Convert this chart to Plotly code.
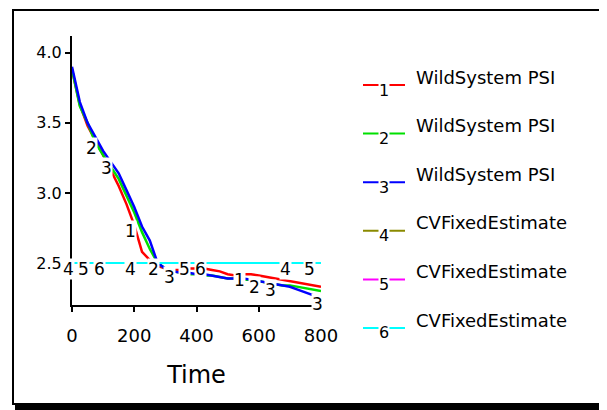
import plotly.graph_objects as go

# ---------------- data ----------------
time = [0, 25, 50, 75, 100, 125, 150, 175, 200, 225, 250, 275, 300, 325, 350, 375, 400,
        425, 450, 475, 500, 525, 550, 575, 600, 625, 650, 675, 700, 725, 750, 775, 800]

wild_1 = [3.88, 3.63, 3.48, 3.38, 3.27, 3.16, 3.05, 2.92, 2.77, 2.58, 2.52, 2.48, 2.46,
          2.45, 2.45, 2.46, 2.46, 2.46, 2.45, 2.44, 2.42, 2.41, 2.42, 2.42, 2.41, 2.40,
          2.39, 2.38, 2.37, 2.36, 2.35, 2.34, 2.33]
wild_2 = [3.88, 3.62, 3.50, 3.36, 3.27, 3.18, 3.10, 2.98, 2.86, 2.72, 2.60, 2.50, 2.46,
          2.44, 2.43, 2.42, 2.42, 2.41, 2.41, 2.40, 2.39, 2.39, 2.38, 2.38, 2.37, 2.36,
          2.35, 2.34, 2.34, 2.33, 2.32, 2.31, 2.30]
wild_3 = [3.90, 3.65, 3.50, 3.40, 3.30, 3.22, 3.14, 3.02, 2.90, 2.76, 2.66, 2.50, 2.46,
          2.44, 2.43, 2.43, 2.42, 2.42, 2.41, 2.40, 2.39, 2.39, 2.39, 2.38, 2.37, 2.36,
          2.35, 2.34, 2.33, 2.31, 2.29, 2.27, 2.25]
cv_4 = [2.5, 2.5, 2.5, 2.5, 2.5, 2.5, 2.5, 2.5, 2.5, 2.5, 2.5, 2.5, 2.5, 2.5, 2.5, 2.5, 2.5,
        2.5, 2.5, 2.5, 2.5, 2.5, 2.5, 2.5, 2.5, 2.5, 2.5, 2.5, 2.5, 2.5, 2.5, 2.5, 2.5]
cv_5 = list(cv_4)
cv_6 = list(cv_4)

names = ["WildSystem PSI", "WildSystem PSI", "WildSystem PSI",
         "CVFixedEstimate", "CVFixedEstimate", "CVFixedEstimate"]
colors = ["#ff0000", "#00e000", "#0000ff", "#8a8a00", "#ff00ff", "#00ffff"]
series = [wild_1, wild_2, wild_3, cv_4, cv_5, cv_6]
# which points carry the curve number
label_idx = [[8, 22], [3, 11, 24], [5, 13, 26, 32], [0, 8, 28], [2, 15, 31], [4, 17]]

# page has an 8px body margin, work in page pixels and shift
OFF = 8
L, R, T, B = 72, 321, 36, 305      # plot area, page pixels
W, H = 607 - OFF, 410 - OFF
def fx(px):
    return (px - L) / (R - L)
def fy(py):
    return (B - py) / (B - T)

fig = go.Figure()
annotations = []
shapes = []
for i, ys in enumerate(series):
    fig.add_trace(go.Scatter(x=time, y=ys, mode="lines", name=names[i],
                             line=dict(color=colors[i], width=2.5 if i < 3 else 2),
                             showlegend=False))
for i, ys in enumerate(series):
    for k in label_idx[i]:
        annotations.append(dict(x=time[k], y=ys[k], xref="x", yref="y", text=str(i + 1),
                                showarrow=False, xanchor="center", yanchor="middle",
                                xshift=-4, yshift=-6, bgcolor="white", borderpad=0,
                                font=dict(size=17, color="black", family="DejaVu Sans")))

# legend drawn by hand
for i in range(6):
    ly = 85 + i * 48.6
    shapes.append(dict(type="line", xref="paper", yref="paper", x0=fx(363), x1=fx(405),
                       y0=fy(ly), y1=fy(ly), line=dict(color=colors[i], width=2)))
    annotations.append(dict(x=fx(384), y=fy(ly + 5), xref="paper", yref="paper",
                            text=str(i + 1), showarrow=False, xanchor="center",
                            yanchor="middle", bgcolor="white", borderpad=0,
                            font=dict(size=16, color="black", family="DejaVu Sans")))
    annotations.append(dict(x=fx(414), y=fy(ly - 8), xref="paper", yref="paper",
                            text=names[i], showarrow=False, xanchor="left",
                            yanchor="middle",
                            font=dict(size=18, color="black", family="DejaVu Sans")))

# outer frame with its shadow
shapes.append(dict(type="rect", xref="paper", yref="paper", x0=fx(13), x1=fx(650),
                   y0=fy(404), y1=fy(10), line=dict(color="black", width=2)))
shapes.append(dict(type="line", xref="paper", yref="paper", x0=fx(15), x1=fx(650),
                   y0=fy(407), y1=fy(407), line=dict(color="black", width=6)))

fig.update_layout(
    width=W, height=H,
    margin=dict(l=L - OFF, r=W - (R - OFF), t=T - OFF, b=H - (B - OFF)),
    paper_bgcolor="white", plot_bgcolor="white",
    font=dict(family="DejaVu Sans", color="black"),
    annotations=annotations, shapes=shapes,
)
fig.update_xaxes(range=[0, 800], tickvals=[0, 200, 400, 600, 800], showgrid=False,
                 zeroline=False, showline=True, linecolor="black", linewidth=2,
                 ticks="outside", ticklen=5, tickwidth=2, tickcolor="black",
                 tickfont=dict(size=18), ticklabelstandoff=8, automargin=False,
                 title=dict(text="Time", font=dict(size=24), standoff=22))
fig.update_yaxes(range=[2.2, 4.12], tickvals=[2.5, 3.0, 3.5, 4.0], tickformat=".1f",
                 showgrid=False, zeroline=False, showline=True, linecolor="black",
                 linewidth=2, ticks="outside", ticklen=5, tickwidth=2, tickcolor="black",
                 tickfont=dict(size=16), automargin=False)

fig.write_html("out.html")
